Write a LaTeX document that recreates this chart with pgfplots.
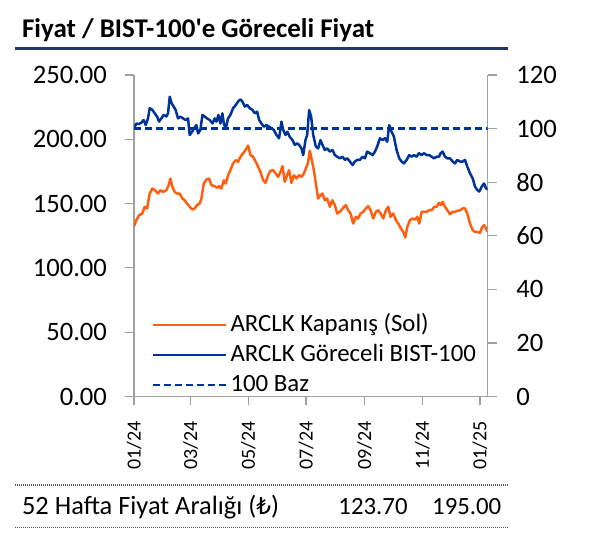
\documentclass[border=0pt]{standalone}
\usepackage{fontspec}
\setmainfont{Carlito}[Ligatures=TeXOff]
\newfontfamily\dejavu[Scale=0.88]{DejaVu Sans}
\usepackage{pgfplots}
\pgfplotsset{compat=1.18}
\definecolor{orng}{RGB}{255,95,15}
\definecolor{blu}{RGB}{0,51,153}
\definecolor{navy}{RGB}{31,56,100}
\definecolor{axg}{RGB}{160,160,160}
\definecolor{dotg}{RGB}{90,90,90}
\begin{document}
\begin{tikzpicture}
\path (0,0) rectangle (300pt,-269.5pt);
\node[anchor=base west, inner sep=0pt, font=\bfseries\fontsize{13.5}{16}\selectfont] at (10.85pt,-19pt) {Fiyat / BIST-100'e Göreceli Fiyat};
\draw[navy, line width=1.65pt] (7.5pt,-24.15pt) -- (254.2pt,-24.15pt);
\draw[dotg, line width=0.7pt, dash pattern=on 0.5pt off 0.5pt] (7.5pt,-242.5pt) -- (254.2pt,-242.5pt);
\draw[dotg, line width=0.7pt, dash pattern=on 0.5pt off 0.5pt] (7.5pt,-263.65pt) -- (254.2pt,-263.65pt);
\node[anchor=base west, inner sep=0pt, font=\fontsize{13.2}{16}\selectfont] at (10.85pt,-257.5pt) {52 Hafta Fiyat Aralığı ({\dejavu ₺})};
\node[anchor=base east, inner sep=0pt, font=\fontsize{12.4}{16}\selectfont] at (204pt,-257.5pt) {123.70};
\node[anchor=base east, inner sep=0pt, font=\fontsize{12.4}{16}\selectfont] at (250.85pt,-257.5pt) {195.00};

\begin{axis}[at={(67pt,-198.25pt)}, anchor=south west, scale only axis,
  width=176.85pt, height=160.75pt,
  xmin=0, xmax=374.2, ymin=0, ymax=250,
  axis y line*=left, axis x line*=bottom,
  axis line style={axg, line width=0.6pt},
  tick style={axg, line width=0.6pt},
  tick align=outside, major tick length=4.5pt,
  ytick={0,50,100,150,200,250},
  xtick={0,60,121,182,244,305,366},
  xticklabels={01/24,03/24,05/24,07/24,09/24,11/24,01/25},
  x tick label style={rotate=90, anchor=east, font=\fontsize{10}{12}\selectfont, xshift=-4.5pt},
  y tick label style={font=\fontsize{13.3}{14}\selectfont, xshift=-5.5pt},
  yticklabel style={/pgf/number format/fixed, /pgf/number format/fixed zerofill, /pgf/number format/precision=2},
  /pgf/number format/assume math mode=true,
]
\addplot[orng, line width=1.25pt, line join=round] coordinates {
(0,132.4) (2.5,137.1) (5.3,141.0) (8.8,142.3) (11.3,147.5) (13.8,146.2) (16.6,157.8) (19.4,161.7) (22.9,159.9) (25.4,157.8) (27.9,160.4) (30.7,159.1) (34.2,160.4) (36.7,164.3) (38.5,169.5) (40.6,163.0) (43.1,159.1) (45.5,157.8) (48.4,157.8) (51.2,153.9) (53.7,152.6) (56.1,150.1) (58.9,147.5) (61.8,145.4) (64.2,146.2) (66.7,148.8) (69.5,150.1) (71.3,153.9) (73.8,165.6) (76.6,168.7) (79.4,169.5) (81.9,164.3) (85.4,163.6) (87.9,162.3) (90.0,163.6) (92.5,161.7) (95.0,168.2) (97.1,165.6) (99.5,172.1) (102.0,176.0) (104.8,181.2) (107.7,183.8) (110.1,182.5) (112.6,186.4) (115.4,189.0) (117.9,191.6) (120.7,195.0) (123.2,187.7) (126.0,186.4) (128.8,182.5) (131.3,178.6) (133.8,174.7) (136.6,168.2) (139.1,166.1) (141.9,172.1) (144.4,175.5) (147.2,176.0) (150.0,173.4) (152.5,170.8) (155.0,174.7) (157.1,179.1) (159.5,166.9) (162.0,172.1) (164.1,176.0) (166.6,166.1) (169.1,172.1) (171.9,169.5) (174.7,172.1) (177.2,170.8) (179.7,173.4) (181.8,177.3) (183.9,181.2) (186.0,191.1) (188.1,183.8) (190.3,176.0) (192.4,165.6) (194.8,153.9) (197.3,156.5) (199.4,157.8) (201.9,152.6) (204.4,153.9) (207.2,147.5) (209.7,152.6) (212.5,148.8) (215.0,142.3) (217.8,143.6) (220.6,146.2) (224.1,148.8) (226.6,144.9) (229.1,142.3) (231.9,134.5) (234.7,139.7) (237.2,138.4) (239.7,142.3) (242.5,143.6) (245.3,146.2) (247.8,148.0) (250.3,144.9) (253.1,138.4) (255.9,143.6) (258.4,144.9) (260.9,142.3) (263.7,138.4) (266.5,144.9) (269.0,147.5) (271.4,139.7) (274.3,142.3) (277.1,137.1) (279.6,134.5) (282.4,130.6) (284.9,128.0) (287.0,123.7) (289.1,131.9) (291.9,137.1) (294.7,138.4) (297.2,137.6) (299.7,139.7) (301.8,134.5) (304.3,143.6) (306.7,143.6) (309.6,143.6) (312.4,144.9) (314.9,144.9) (317.7,147.5) (320.2,147.5) (322.6,150.6) (324.4,148.8) (326.5,151.3) (329.0,147.5) (331.5,144.9) (334.3,141.7) (337.1,143.6) (339.6,143.6) (342.0,144.3) (344.9,144.9) (347.7,146.2) (350.2,146.2) (352.6,142.3) (355.5,134.5) (358.3,129.3) (360.8,128.0) (363.6,128.0) (366.0,127.2) (368.5,131.9) (370.6,133.2) (372.4,130.6) (374.2,128.0)
};
\end{axis}

\begin{axis}[at={(67pt,-198.25pt)}, anchor=south west, scale only axis,
  width=176.85pt, height=160.75pt,
  xmin=0, xmax=374.2, ymin=0, ymax=120,
  axis y line*=right, axis x line=none,
  axis line style={axg, line width=0.6pt},
  tick style={axg, line width=0.6pt},
  tick align=outside, major tick length=4.5pt,
  ytick={0,20,40,60,80,100,120},
  y tick label style={font=\fontsize{13.3}{14}\selectfont, xshift=6.3pt},
  /pgf/number format/assume math mode=true,
  legend image code/.code={\draw[#1] (0pt,0pt) -- (36.5pt,0pt);},
  legend cell align=left,
  legend style={at={(0.033,0.2825)}, anchor=north west, draw=none, fill=none,
    font=\fontsize{12.4}{14}\selectfont, row sep=0pt, column sep=0pt,
    nodes={inner sep=1.5pt, text height=9pt, text depth=3pt}},
]
\addlegendimage{orng, line width=1.25pt}
\addlegendentry{ARCLK Kapanış (Sol)}
\addplot[blu, line width=1.25pt, line join=round] coordinates {
(0,100.1) (2.5,101.9) (5.3,101.7) (7.8,102.2) (10.2,103.2) (12.4,101.3) (14.8,103.8) (16.6,107.6) (19.4,107.0) (21.9,105.7) (24.4,104.5) (26.5,102.6) (28.9,103.8) (31.4,105.1) (34.2,104.5) (36.0,105.7) (37.8,111.9) (39.9,109.4) (42.0,108.2) (44.1,106.9) (46.6,103.8) (49.1,104.5) (51.9,103.8) (54.7,103.2) (57.2,103.8) (58.9,97.6) (61.4,98.8) (63.5,100.1) (66.0,101.3) (67.8,98.2) (70.2,99.5) (72.4,105.1) (74.8,104.5) (77.3,103.8) (80.1,103.2) (83.0,101.9) (85.4,103.8) (87.2,102.6) (89.3,105.1) (91.4,101.9) (93.5,105.7) (95.0,101.9) (97.1,100.1) (99.5,103.8) (102.0,105.1) (104.8,107.6) (107.7,108.8) (110.1,110.1) (112.6,110.9) (114.7,110.1) (117.2,108.2) (119.7,108.8) (122.5,107.6) (125.3,107.0) (127.8,105.7) (130.3,106.3) (132.4,103.2) (134.8,101.9) (137.3,100.7) (140.1,101.3) (143.0,100.7) (145.4,100.1) (147.9,99.5) (150.7,97.6) (153.5,96.4) (156.0,102.6) (157.8,99.5) (160.3,97.6) (162.4,98.8) (164.8,96.9) (167.7,95.7) (170.1,93.9) (172.6,94.5) (174.7,93.9) (177.2,92.6) (179.0,90.1) (181.4,95.7) (183.2,97.6) (185.3,106.9) (187.4,104.5) (189.6,97.6) (192.4,93.3) (194.8,92.6) (197.3,95.7) (199.4,93.9) (201.9,92.0) (204.4,92.6) (207.2,91.4) (210.0,92.0) (212.5,90.1) (215.0,89.5) (217.8,88.9) (220.6,89.5) (223.1,88.3) (225.6,88.9) (228.4,87.7) (231.2,86.4) (233.7,87.7) (236.1,88.3) (239.0,88.3) (241.8,89.5) (244.3,88.9) (246.7,91.4) (249.6,90.8) (252.4,90.1) (254.9,91.4) (257.3,93.3) (260.2,96.4) (263.0,95.7) (265.4,96.4) (267.9,95.1) (270.0,101.3) (272.5,98.8) (275.0,97.0) (277.8,92.0) (280.6,88.9) (283.1,87.7) (285.6,87.0) (288.4,88.3) (291.2,90.1) (293.7,89.5) (296.2,90.1) (299.0,89.5) (301.4,90.8) (304.3,90.1) (306.7,90.8) (309.6,90.1) (312.4,90.1) (314.9,89.5) (317.3,88.9) (320.2,89.5) (322.6,89.5) (324.4,90.8) (326.5,91.4) (329.0,89.5) (331.5,88.9) (334.3,88.9) (337.1,87.7) (339.6,87.0) (342.0,88.3) (344.9,87.7) (347.7,87.7) (350.2,88.3) (352.6,85.8) (355.5,83.3) (358.3,81.4) (360.8,78.3) (363.2,77.1) (365.3,76.5) (367.8,78.3) (370.3,79.5) (372.4,77.7) (374.2,77.3)
};
\addlegendentry{ARCLK Göreceli BIST-100}
\addplot[blu, line width=1.1pt, dash pattern=on 3.5pt off 2pt] coordinates {(0,100) (374.2,100)};
\addlegendentry{100 Baz}
\end{axis}
\end{tikzpicture}
\end{document}
